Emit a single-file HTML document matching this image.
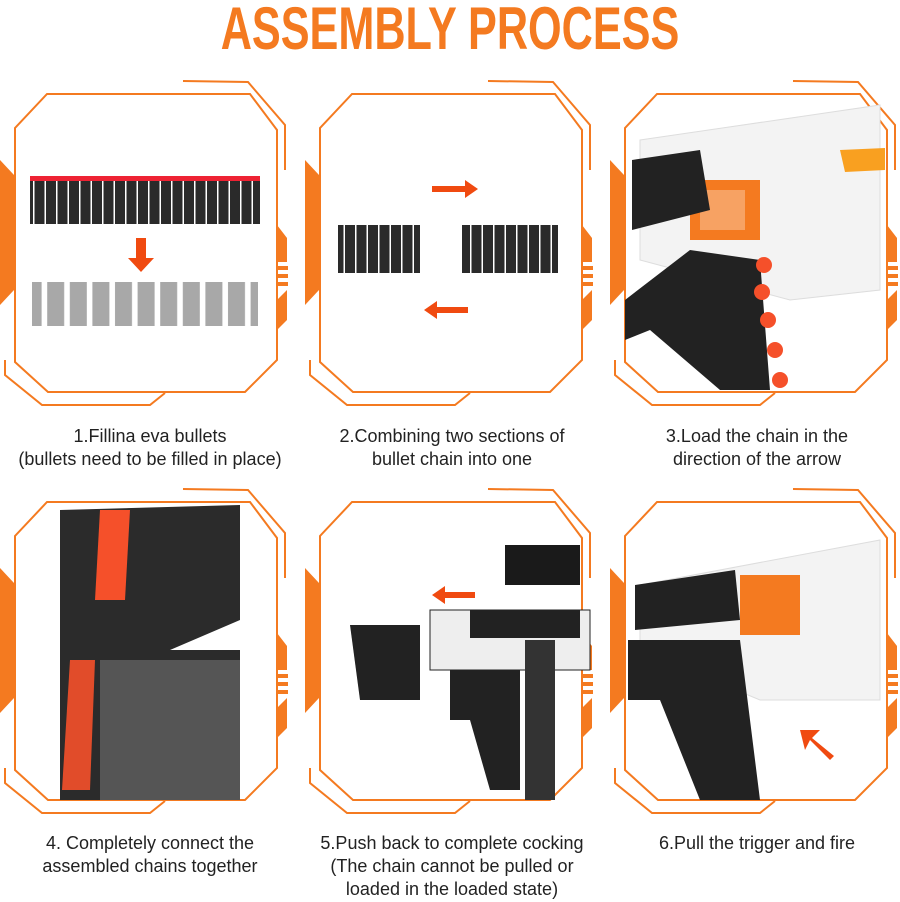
<!DOCTYPE html>
<html><head><meta charset="utf-8"><style>
html,body{margin:0;padding:0;background:#fff;width:900px;height:902px;overflow:hidden;position:relative;font-family:"Liberation Sans",sans-serif}
.t{position:absolute;top:-6px;left:0;width:900px;text-align:center;font-weight:bold;font-size:60px;color:#f47a20;letter-spacing:0px;transform:scaleX(0.72);font-family:"Liberation Sans Narrow","Liberation Sans",sans-serif}
.c{position:absolute;width:300px;text-align:center;font-size:18px;line-height:23px;color:#222}
svg{position:absolute;left:0;top:0}
</style></head><body>
<div class="t">ASSEMBLY PROCESS</div>
<svg width="900" height="902">
<defs>
<g id="fr" fill="none" stroke="#f47a20" stroke-width="2">
<path d="M47,94 L250,94 L277,130 L277,360 L245,392 L48,392 L15,362 L15,128 Z"/>
<path d="M183,81 L248,82 L285,125 L285,170"/>
<path d="M5,360 L5,375 L42,405 L150,405 L165,393"/>
<path d="M0,160 L14,175 L14,290 L0,305 Z" fill="#f47a20" stroke="none"/>
<path d="M277,225 L287,238 L287,262 L277,262 Z" fill="#f47a20" stroke="none"/>
<rect x="277" y="266" width="11" height="4" fill="#f47a20" stroke="none"/>
<rect x="277" y="274" width="11" height="4" fill="#f47a20" stroke="none"/>
<rect x="277" y="282" width="11" height="4" fill="#f47a20" stroke="none"/>
<path d="M277,300 L287,290 L287,320 L277,330 Z" fill="#f47a20" stroke="none"/>
</g>
<pattern id="bl" width="11.5" height="50" patternUnits="userSpaceOnUse"><rect x="0" y="0" width="10" height="50" fill="#2a2a2a"/></pattern>
<pattern id="gl" width="22.6" height="50" patternUnits="userSpaceOnUse"><rect x="2" y="0" width="17" height="50" fill="#a8a8a8"/></pattern>
</defs>
<use href="#fr" x="0" y="0"/><use href="#fr" x="305" y="0"/><use href="#fr" x="610" y="0"/>
<use href="#fr" x="0" y="408"/><use href="#fr" x="305" y="408"/><use href="#fr" x="610" y="408"/>
<g>
<rect x="30" y="180" width="230" height="44" fill="url(#bl)"/>
<rect x="30" y="176" width="230" height="5" fill="#e23"/>
<path d="M136,238 L146,238 L146,258 L154,258 L141,272 L128,258 L136,258Z" fill="#f04a10"/>
<rect x="32" y="282" width="226" height="44" fill="url(#gl)"/>
</g>
<g>
<rect x="338" y="225" width="82" height="48" fill="url(#bl)"/>
<rect x="462" y="225" width="96" height="48" fill="url(#bl)"/>
<path d="M432,186 L465,186 L465,180 L478,189 L465,198 L465,192 L432,192Z" fill="#f04a10"/>
<path d="M468,307 L437,307 L437,301 L424,310 L437,319 L437,313 L468,313Z" fill="#f04a10"/>
</g>
<g>
<path d="M640,140 L880,105 L880,290 L790,300 L640,260 Z" fill="#f3f3f3" stroke="#ddd"/>
<rect x="690" y="180" width="70" height="60" fill="#f47a20"/>
<rect x="700" y="190" width="45" height="40" fill="#fff" opacity=".3"/>
<path d="M632,160 L700,150 L710,210 L632,230Z" fill="#222"/>
<path d="M840,150 L885,148 L885,170 L845,172Z" fill="#f9a020"/>
<path d="M625,300 L690,250 L760,260 L770,390 L720,390 L650,330 L625,340Z" fill="#222"/>
<circle cx="764" cy="265" r="8" fill="#f5502a"/><circle cx="762" cy="292" r="8" fill="#f5502a"/><circle cx="768" cy="320" r="8" fill="#f5502a"/><circle cx="775" cy="350" r="8" fill="#f5502a"/><circle cx="780" cy="380" r="8" fill="#f5502a"/>
</g>
<g>
<path d="M60,510 L240,505 L240,620 L170,650 L240,650 L240,800 L60,800 Z" fill="#2b2b2b"/>
<path d="M100,510 L130,510 L125,600 L95,600Z" fill="#f5502a"/>
<path d="M70,660 L95,660 L90,790 L62,790Z" fill="#f5502a" opacity=".9"/>
<rect x="100" y="660" width="140" height="140" fill="#555"/>
</g>
<g>
<path d="M433,592 L463,592 L463,586 L476,595 L463,604 L463,598 L433,598Z" fill="#f04a10" transform="rotate(180 454 595)"/>
<rect x="505" y="545" width="75" height="40" fill="#1a1a1a"/>
<rect x="430" y="610" width="160" height="60" fill="#eee" stroke="#222"/>
<rect x="470" y="610" width="110" height="28" fill="#222"/>
<path d="M350,625 L420,625 L420,700 L360,700Z" fill="#222"/>
<path d="M450,670 L520,670 L520,790 L490,790 L470,720 L450,720Z" fill="#222"/>
<rect x="525" y="640" width="30" height="160" fill="#333"/>
</g>
<g>
<path d="M640,585 L880,540 L880,700 L760,700 L640,650Z" fill="#f3f3f3" stroke="#ddd"/>
<path d="M635,585 L735,570 L740,620 L635,630Z" fill="#222"/>
<rect x="740" y="575" width="60" height="60" fill="#f47a20"/>
<path d="M628,640 L740,640 L760,800 L700,800 L660,700 L628,700Z" fill="#222"/>
<path d="M830,760 L810,740 L805,750 L800,730 L820,730 L812,738 L834,756Z" fill="#f04a10"/>
</g>
</svg>
<div class="c" style="left:0;top:425px">1.Fillina eva bullets<br>(bullets need to be filled in place)</div>
<div class="c" style="left:302px;top:425px">2.Combining two sections of<br>bullet chain into one</div>
<div class="c" style="left:607px;top:425px">3.Load the chain in the<br>direction of the arrow</div>
<div class="c" style="left:0;top:832px">4. Completely connect the<br>assembled chains together</div>
<div class="c" style="left:302px;top:832px">5.Push back to complete cocking<br>(The chain cannot be pulled or<br>loaded in the loaded state)</div>
<div class="c" style="left:607px;top:832px">6.Pull the trigger and fire</div>
</body></html>
